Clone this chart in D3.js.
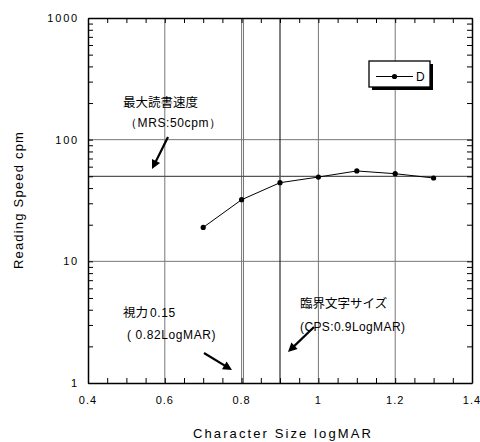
<!DOCTYPE html>
<html lang="ja">
<head>
<meta charset="UTF-8">
<script src="https://d3js.org/d3.v7.min.js"></script>
<style>
  body { margin: 0; background: #fff; }
  text { font-family: "Liberation Sans", Arial, sans-serif; fill: #000; }
  .jp { font-family: "Noto Sans CJK JP", sans-serif; }
</style>
</head>
<body>
<svg id="chart" width="480" height="442"></svg>
<script>
// data
const logMAR = [0.7, 0.8, 0.9, 1.0, 1.1, 1.2, 1.3];
const speedD = [19.0, 32.1, 44.3, 49.3, 55.3, 52.5, 48.4];
const xTicks = [0.4, 0.6, 0.8, 1.0, 1.2, 1.4];
const xTickLabels = ["0.4", "0.6", "0.8", "1", "1.2", "1.4"];
const yTicks = [1, 10, 100, 1000];
const mrs = 50;          // max reading speed line
const cps = 0.9;         // critical print size line
const visionLine = 0.805; // visual acuity 0.15 line

const svg = d3.select("svg#chart");
const margin = {top: 18, right: 8, bottom: 59, left: 88};
const width = 480, height = 442;
const x = d3.scaleLinear().domain([0.4, 1.4]).range([margin.left, width - margin.right]);
const y = d3.scaleLog().domain([1, 1000]).range([height - margin.bottom, margin.top]);

const grid = svg.append("g");
// gray grid
grid.selectAll("line.vx").data([0.6, 0.8, 1.0, 1.2]).join("line")
  .attr("x1", d => x(d)).attr("x2", d => x(d))
  .attr("y1", y(1000)).attr("y2", y(1))
  .attr("stroke", "#777").attr("stroke-width", 1);
grid.selectAll("line.hy").data([10, 100]).join("line")
  .attr("y1", d => y(d)).attr("y2", d => y(d))
  .attr("x1", x(0.4)).attr("x2", x(1.4))
  .attr("stroke", "#777").attr("stroke-width", 1);

// reference lines
grid.append("line")
  .attr("x1", x(visionLine)).attr("x2", x(visionLine))
  .attr("y1", y(1000)).attr("y2", y(1))
  .attr("stroke", "#777").attr("stroke-width", 1);
grid.append("line")
  .attr("x1", x(cps)).attr("x2", x(cps))
  .attr("y1", y(1000)).attr("y2", y(1))
  .attr("stroke", "#000").attr("stroke-width", 1);
grid.append("line")
  .attr("y1", y(mrs)).attr("y2", y(mrs))
  .attr("x1", x(0.4)).attr("x2", x(1.4))
  .attr("stroke", "#555").attr("stroke-width", 1.3);

// axes: ticks pointing inwards on all four sides
const xMinor = d3.range(0.4, 1.4001, 0.05);
const yMinor = [];
[1, 10, 100].forEach(b => { for (let k = 1; k <= 9; k++) yMinor.push(b * k); });
yMinor.push(1000);

svg.append("g").attr("transform", `translate(0,${y(1)})`)
  .call(d3.axisBottom(x).tickValues(xMinor).tickSizeInner(-5).tickSizeOuter(0).tickFormat(""))
  .call(g => g.selectAll("line").attr("stroke", "#000"))
  .call(g => g.select(".domain").attr("stroke", "#000").attr("stroke-width", 1.5));
svg.append("g").attr("transform", `translate(0,${y(1000)})`)
  .call(d3.axisTop(x).tickValues(xMinor).tickSizeInner(-5).tickSizeOuter(0).tickFormat(""))
  .call(g => g.select(".domain").attr("stroke", "#000").attr("stroke-width", 1.5));
svg.append("g").attr("transform", `translate(${x(0.4)},0)`)
  .call(d3.axisLeft(y).tickValues(yMinor).tickSizeInner(-5).tickSizeOuter(0).tickFormat(""))
  .call(g => g.selectAll(".tick line").attr("stroke-width", 1))
  .call(g => g.select(".domain").attr("stroke", "#000").attr("stroke-width", 1.5));
svg.append("g").attr("transform", `translate(${x(1.4)},0)`)
  .call(d3.axisRight(y).tickValues(yMinor).tickSizeInner(-5).tickSizeOuter(0).tickFormat(""))
  .call(g => g.select(".domain").attr("stroke", "#000").attr("stroke-width", 1.5));

// tick labels
svg.append("g").selectAll("text").data(xTicks).join("text")
  .attr("x", (d, i) => x(d)).attr("y", 404)
  .attr("text-anchor", "middle").attr("font-size", 11).attr("letter-spacing", 1)
  .text((d, i) => xTickLabels[i]);
svg.append("g").selectAll("text").data(yTicks).join("text")
  .attr("x", 79).attr("y", d => y(d) + 4)
  .attr("text-anchor", "end").attr("font-size", 11).attr("letter-spacing", 1.8)
  .text(d => d);

// axis titles
svg.append("text").attr("x", x(0.9) + 3).attr("y", 438)
  .attr("text-anchor", "middle").attr("font-size", 13).attr("letter-spacing", 2.1)
  .text("Character Size logMAR");
svg.append("text").attr("transform", "translate(23,200) rotate(-90)")
  .attr("text-anchor", "middle").attr("font-size", 13).attr("letter-spacing", 1.2)
  .text("Reading Speed cpm");

// series D
const line = d3.line().x((d, i) => x(logMAR[i])).y(d => y(d));
svg.append("path").datum(speedD)
  .attr("d", line).attr("fill", "none").attr("stroke", "#000").attr("stroke-width", 1);
svg.append("g").selectAll("circle").data(speedD).join("circle")
  .attr("cx", (d, i) => x(logMAR[i])).attr("cy", d => y(d)).attr("r", 2.6).attr("fill", "#000");

// legend
const lg = svg.append("g").attr("transform", "translate(369,61)");
lg.append("rect").attr("x", 3).attr("y", 3).attr("width", 61).attr("height", 26).attr("fill", "#000");
lg.append("rect").attr("x", 0).attr("y", 0).attr("width", 61).attr("height", 26)
  .attr("fill", "#fff").attr("stroke", "#000").attr("stroke-width", 1.3);
lg.append("line").attr("x1", 7).attr("x2", 44).attr("y1", 15.5).attr("y2", 15.5).attr("stroke", "#000");
lg.append("circle").attr("cx", 25.5).attr("cy", 15.5).attr("r", 2.6).attr("fill", "#000");
lg.append("text").attr("x", 47).attr("y", 20).attr("font-size", 12).text("D");

// annotations
function arrow(x1, y1, x2, y2) {
  const a = Math.atan2(y2 - y1, x2 - x1), L = 9, W = 4.5;
  svg.append("line").attr("x1", x1).attr("y1", y1)
    .attr("x2", x2 - Math.cos(a) * 6).attr("y2", y2 - Math.sin(a) * 6)
    .attr("stroke", "#000").attr("stroke-width", 2.2);
  const bx = x2 - Math.cos(a) * L, by = y2 - Math.sin(a) * L;
  svg.append("path")
    .attr("d", `M${x2},${y2}L${bx - Math.sin(a) * W},${by + Math.cos(a) * W}L${bx + Math.sin(a) * W},${by - Math.cos(a) * W}Z`)
    .attr("fill", "#000");
}
svg.append("text").attr("class", "jp").attr("x", 123).attr("y", 107).attr("font-size", 12.5).text("最大読書速度");
svg.append("text").attr("x", 125).attr("y", 127).attr("font-size", 12).attr("letter-spacing", 0.6).text("（MRS:50cpm）");
arrow(168, 137, 152, 169);

svg.append("text").attr("class", "jp").attr("x", 123).attr("y", 317).attr("font-size", 12.5).text("視力");
svg.append("text").attr("x", 150).attr("y", 317).attr("font-size", 12).attr("letter-spacing", 0.6).text("0.15");
svg.append("text").attr("x", 127).attr("y", 339).attr("font-size", 12).attr("letter-spacing", 0.6).text("( 0.82LogMAR)");
arrow(204, 353, 232, 370);

svg.append("text").attr("class", "jp").attr("x", 300).attr("y", 308).attr("font-size", 12.5).text("臨界文字サイズ");
svg.append("text").attr("x", 300).attr("y", 331).attr("font-size", 12).attr("letter-spacing", 0.4).text("(CPS:0.9LogMAR)");
arrow(314, 327, 288, 352);
</script>
</body>
</html>
